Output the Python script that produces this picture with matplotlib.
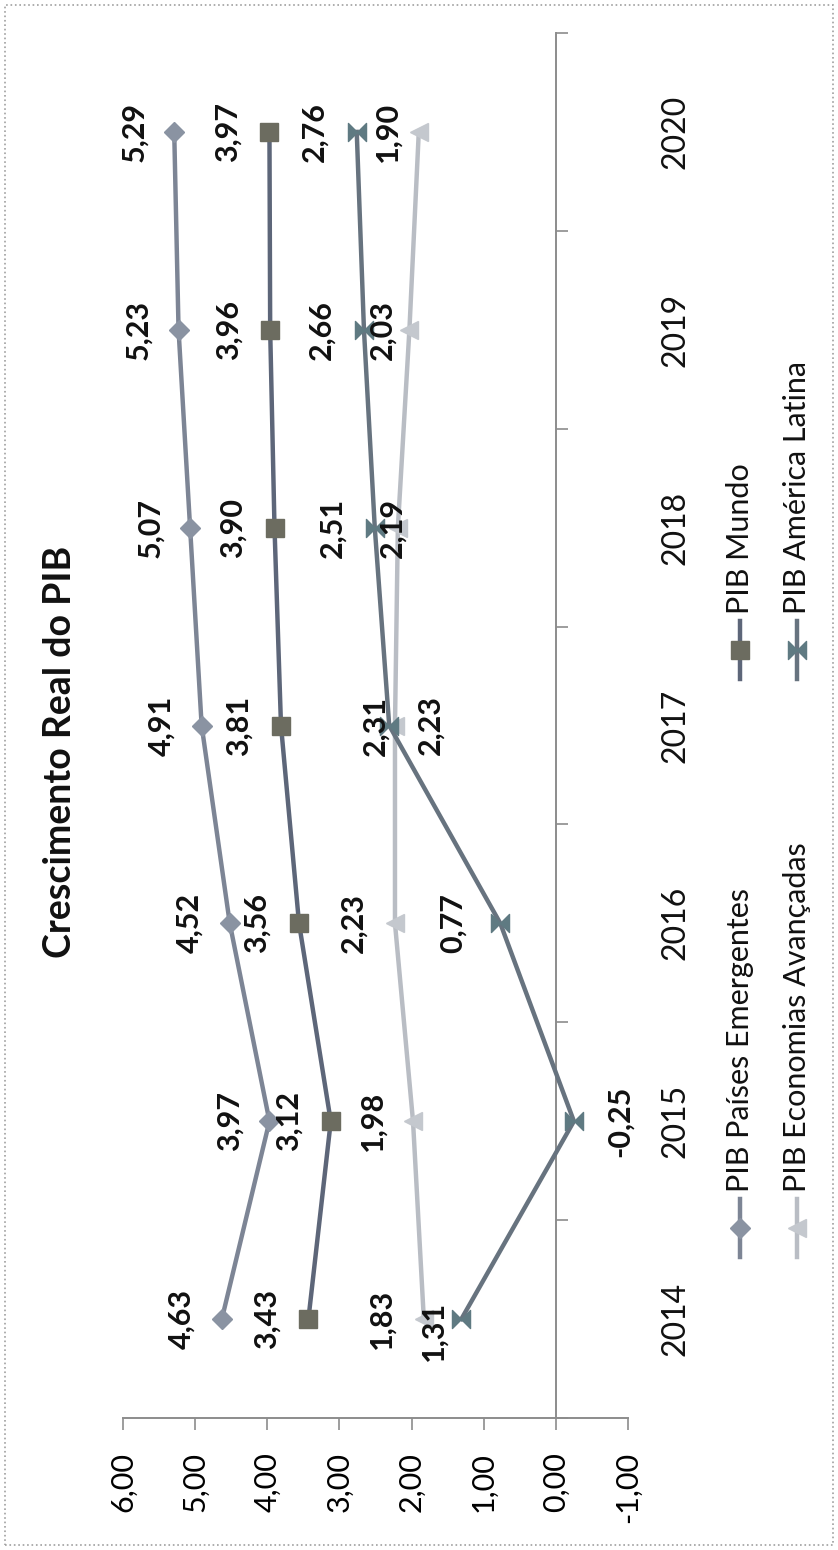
import matplotlib
matplotlib.use('Agg')
import matplotlib.pyplot as plt
import matplotlib.transforms as mtransforms
from matplotlib.path import Path
from matplotlib.lines import Line2D
from matplotlib.patches import Rectangle

plt.rcParams['font.family'] = ['Lato', 'DejaVu Sans']

# dados
anos = ['2014', '2015', '2016', '2017', '2018', '2019', '2020']
emergentes = [4.63, 3.97, 4.52, 4.91, 5.07, 5.23, 5.29]
mundo = [3.43, 3.12, 3.56, 3.81, 3.90, 3.96, 3.97]
avancadas = [1.83, 1.98, 2.23, 2.23, 2.19, 2.03, 1.90]
latina = [1.31, -0.25, 0.77, 2.31, 2.51, 2.66, 2.76]
nomes = ['PIB Países Emergentes', 'PIB Mundo',
         'PIB Economias Avançadas', 'PIB América Latina']
valor_ticks = [6, 5, 4, 3, 2, 1, 0, -1]

W, H = 838, 1550

def px(x, y):
    # pixel da imagem -> fração da figura
    return x / W, 1 - y / H

bowtie = Path([(-1, -1), (-1, 1), (1, -1), (1, 1), (-1, -1)],
              [Path.MOVETO, Path.LINETO, Path.LINETO, Path.LINETO, Path.CLOSEPOLY])

estilos = [
    dict(color='#7d8595', marker='D', ms=10, mfc='#8a93a2', mec='#8a93a2'),
    dict(color='#5d6679', marker='s', ms=13, mfc='#6c6c60', mec='#6c6c60'),
    dict(color='#b9bdc4', marker='<', ms=13, mfc='#c4c8ce', mec='#c4c8ce'),
    dict(color='#67737f', marker=bowtie, ms=13, mfc='#5f7a82', mec='#5f7a82'),
]

# deslocamento dos rótulos (px, horizontal / vertical)
desloc = [
    [(-40, 0)] * 7,
    [(-42, 0)] * 7,
    [(-42, 0), (-40, 0), (-42, 0), (35, 0), (-5, 0), (-27, 0), (-31, 0)],
    [(-28, -12), (46, 0), (-47, 0), (-14, 0), (-42, 0), (-42, 0), (-42, 0)],
]

fig = plt.figure(figsize=(W / 100, H / 100), dpi=100)
fig.patch.set_facecolor('white')
fig.patches.append(Rectangle((0.006, 0.003), 0.988, 0.994, transform=fig.transFigure,
                             fill=False, ec='#a0a0a0', lw=1.2, ls=':'))

ax = fig.add_axes([123 / W, 1 - 1418 / H, 505 / W, 1385 / H])
ax.set_xlim(6, -1)
ax.set_ylim(-0.5, 6.5)
ax.set_facecolor('none')

idx = list(range(len(anos)))
series = [emergentes, mundo, avancadas, latina]
for serie, est, offs in zip(series, estilos, desloc):
    ax.plot(serie, idx, lw=3.2, zorder=3, **est)
    for i, v in enumerate(serie):
        dx, dy = offs[i]
        ax.annotate(f'{v:.2f}'.replace('.', ','), (v, i),
                    xytext=(dx * 0.72, dy * 0.72), textcoords='offset points',
                    rotation=90, ha='center', va='center',
                    fontsize=22, fontweight='bold', color='#111111', zorder=5)

# eixos
for s in ['top', 'right']:
    ax.spines[s].set_visible(False)
ax.spines['left'].set_position(('data', 0))
ax.spines['left'].set_color('#8c8c8c')
ax.spines['left'].set_linewidth(1.4)
ax.spines['bottom'].set_color('#8c8c8c')
ax.spines['bottom'].set_linewidth(1.4)

ax.set_yticks([i - 0.5 for i in range(len(anos) + 1)])
ax.tick_params(axis='y', direction='in', length=8.6, width=1.2, color='#8c8c8c',
               labelleft=False)
ax.set_xticks(valor_ticks)
ax.set_xticklabels([f'{t:.2f}'.replace('.', ',') for t in valor_ticks],
                   rotation=90, fontsize=22)
ax.tick_params(axis='x', direction='out', length=8.6, width=1.2, color='#8c8c8c',
               pad=16)

# rótulos das categorias
trans = mtransforms.blended_transform_factory(ax.transAxes, ax.transData)
for i, ano in enumerate(anos):
    ax.text(1.095, i, ano, transform=trans, rotation=90, ha='center', va='center',
            fontsize=23, color='#111111', clip_on=False)

# título
tx, ty = px(60, 752)
fig.text(tx, ty, 'Crescimento Real do PIB', rotation=90, ha='center', va='center',
         fontsize=27, fontweight='bold', color='#111111')

# legenda
leg_pos = [(740, 1228, 1192), (740, 650, 614), (797, 1228, 1192), (797, 650, 614)]
for nome, est, (lx, lm, lt) in zip(nomes, estilos, leg_pos):
    x0, y0 = px(lx, lm + 29)
    x1, y1 = px(lx, lm - 29)
    fig.add_artist(Line2D([x0, x1], [y0, y1], transform=fig.transFigure,
                          color=est['color'], lw=3.2))
    mx, my = px(lx, lm)
    fig.add_artist(Line2D([mx], [my], transform=fig.transFigure, marker=est['marker'],
                          ms=est['ms'], mfc=est['mfc'], mec=est['mec'], ls='none'))
    tx, ty = px(lx, lt)
    fig.text(tx, ty, nome, rotation=90, ha='center', va='bottom', fontsize=22,
             color='#111111')

fig.savefig('out.png', dpi=100)
